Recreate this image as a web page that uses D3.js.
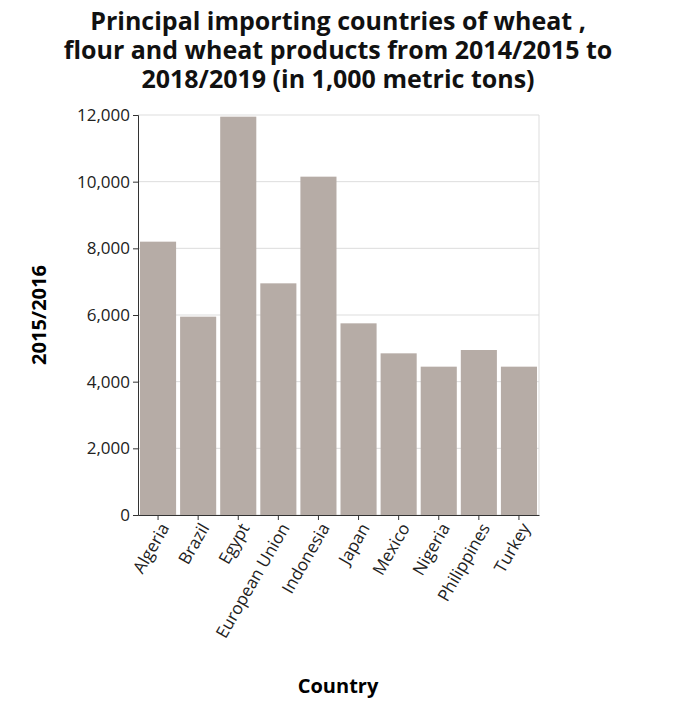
<!DOCTYPE html>
<html><head><meta charset="utf-8">
<script src="https://cdn.jsdelivr.net/npm/d3@7"></script>
<style>body{margin:0;background:#fff;font-family:"Open Sans",sans-serif;}</style>
</head><body>
<svg id="chart" width="676" height="708"></svg>
<script>
const countries = ["Algeria","Brazil","Egypt","European Union","Indonesia","Japan","Mexico","Nigeria","Philippines","Turkey"];
const imports = [8200, 5950, 11950, 6950, 10150, 5750, 4850, 4450, 4950, 4450];
const yTicks = [0, 2000, 4000, 6000, 8000, 10000, 12000];

const svg = d3.select("#chart");
const m = {left: 138, right: 539, top: 115, bottom: 515};

const x = d3.scaleBand().domain(countries).range([m.left, m.right]).paddingInner(0.1).paddingOuter(0.05);
const y = d3.scaleLinear().domain([0, 12000]).range([m.bottom, m.top]);

// grid
svg.append("g").selectAll("line").data(yTicks).enter().append("line")
  .attr("x1", m.left).attr("x2", m.right)
  .attr("y1", d => y(d)).attr("y2", d => y(d))
  .attr("stroke", "#ddd");
svg.append("line").attr("x1", m.right).attr("x2", m.right)
  .attr("y1", m.top).attr("y2", m.bottom).attr("stroke", "#ddd");

svg.append("g").selectAll("rect").data(countries).enter().append("rect")
  .attr("x", d => x(d)).attr("width", x.bandwidth())
  .attr("y", (d, i) => y(imports[i]))
  .attr("height", (d, i) => y(0) - y(imports[i]))
  .attr("fill", "#b6aca6");

const yAxis = svg.append("g").attr("transform", `translate(${m.left},0)`)
  .call(d3.axisLeft(y).tickValues(yTicks).tickFormat(d3.format(",")).tickSize(5));
yAxis.attr("font-size", null);
yAxis.selectAll("text").style("font-size", "17px").attr("fill", "#222").style("font-family", "Open Sans");
yAxis.selectAll("path,line").attr("stroke", "#333");

const xAxis = svg.append("g").attr("transform", `translate(0,${m.bottom})`)
  .call(d3.axisBottom(x).tickSize(5).tickSizeOuter(0));
xAxis.selectAll("path,line").attr("stroke", "#333");
xAxis.selectAll("text").style("font-size", "17px").attr("fill", "#222").style("font-family", "Open Sans")
  .attr("text-anchor", "end").attr("dx", "-0.3em").attr("dy", "0.5em")
  .attr("transform", "rotate(-60)");

const title = ["Principal importing countries of wheat ,", "flour and wheat products from 2014/2015 to", "2018/2019 (in 1,000 metric tons)"];
svg.append("g").selectAll("text").data(title).enter().append("text")
  .attr("x", 338).attr("y", (d, i) => 30 + i * 29)
  .attr("text-anchor", "middle").style("font-size", "25px").attr("font-weight", "bold")
  .attr("fill", "#111").text(d => d);

svg.append("text").attr("x", 338).attr("y", 693).attr("text-anchor", "middle")
  .style("font-size", "20px").attr("font-weight", "bold").text("Country");
svg.append("text").attr("transform", "translate(46,315) rotate(-90)")
  .attr("text-anchor", "middle").style("font-size", "20px").attr("font-weight", "bold").text("2015/2016");
</script>
</body></html>
